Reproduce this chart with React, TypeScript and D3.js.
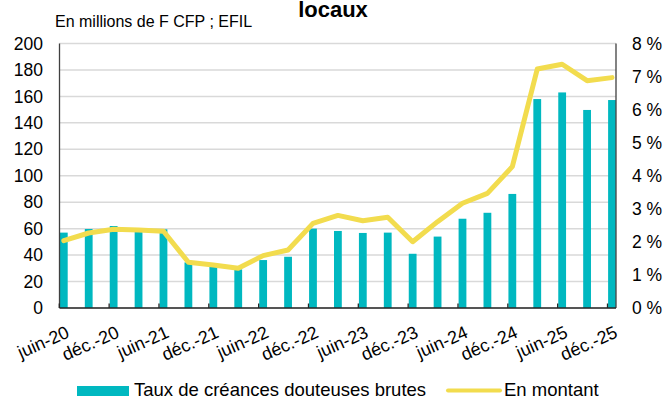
import React from "react";
import * as d3 from "d3";

const categories = [
  "juin-20", "sept.-20", "déc.-20", "mars-21", "juin-21", "sept.-21", "déc.-21", "mars-22",
  "juin-22", "sept.-22", "déc.-22", "mars-23", "juin-23", "sept.-23", "déc.-23", "mars-24",
  "juin-24", "sept.-24", "déc.-24", "mars-25", "juin-25", "sept.-25", "déc.-25",
];
// Taux de créances douteuses brutes (%), right axis
const tauxValues = [2.28, 2.39, 2.48, 2.38, 2.38, 1.38, 1.25, 1.17, 1.45, 1.55, 2.40, 2.33, 2.27, 2.28, 1.64, 2.16, 2.70, 2.88, 3.45, 6.32, 6.52, 5.99, 6.29];
// En montant (millions de F CFP), left axis
const montantValues = [50.9, 56.7, 59.5, 59, 58, 34.6, 32.5, 30, 39.6, 43.9, 64, 70, 66, 68.6, 50.1, 65.3, 79.2, 86.7, 106.9, 180.7, 184.3, 171.9, 174.2];
const leftTicks = [0, 20, 40, 60, 80, 100, 120, 140, 160, 180, 200];
const rightTicks = [0, 1, 2, 3, 4, 5, 6, 7, 8];

const W = 665, H = 401;
const FONT = "'Liberation Sans', Arial, sans-serif";
const TEAL = "#00B8C0";
const YELLOW = "#F2DC4E";

export default function App() {
  const plotL = 59.5, plotR = 616, plotT = 43.5, plotB = 308;
  const x = d3.scalePoint<string>().domain(categories).range([63.8, 612]);
  const yL = d3.scaleLinear().domain([0, 200]).range([plotB, plotT]);
  const yR = d3.scaleLinear().domain([0, 8]).range([plotB, plotT]);
  const barW = 7.8;
  const line = d3.line<number>()
    .x((_, i) => x(categories[i]) as number)
    .y((d) => yL(d));

  return (
    <svg width={W} height={H} style={{ position: "absolute", left: 0, top: 0, background: "#fff" }} fontFamily={FONT}>
      <rect x={0} y={0} width={W} height={H} fill="#fff" />
      <text x={333} y={17} textAnchor="middle" fontWeight="bold" fontSize={22} fill="#000">locaux</text>
      <text x={55} y={27} fontSize={16} fill="#000">En millions de F CFP ; EFIL</text>

      {leftTicks.map((t) => (
        <line key={"g" + t} x1={plotL} x2={plotR} y1={yL(t)} y2={yL(t)} stroke="#D9D9D9" strokeWidth={1.5} />
      ))}

      {tauxValues.map((v, i) => {
        const cx = x(categories[i]) as number;
        return <rect key={"b" + i} x={cx - barW / 2} y={yR(v)} width={barW} height={plotB - yR(v)} fill={TEAL} />;
      })}

      <line x1={plotL} x2={plotL} y1={plotT} y2={plotB} stroke="#404040" strokeWidth={1.3} />
      <line x1={plotR} x2={plotR} y1={plotT} y2={plotB} stroke="#404040" strokeWidth={1.3} />
      <line x1={plotL} x2={plotR} y1={plotB} y2={plotB} stroke="#262626" strokeWidth={1.5} />
      {categories.map((c, i) =>
        i % 2 === 0 ? (
          <line key={"t" + i} x1={(x(c) as number) - 4.5} x2={(x(c) as number) - 4.5} y1={plotB} y2={plotB - 4.5} stroke="#262626" strokeWidth={1.3} />
        ) : null
      )}

      <path d={line(montantValues) || ""} fill="none" stroke={YELLOW} strokeWidth={5} strokeLinejoin="round" strokeLinecap="round" />

      {leftTicks.map((t) => (
        <text key={"l" + t} x={43} y={yL(t)} dy="0.35em" textAnchor="end" fontSize={17.5} fill="#000">{t}</text>
      ))}
      {rightTicks.map((t) => (
        <text key={"r" + t} x={632} y={yR(t)} dy="0.35em" textAnchor="start" fontSize={17.5} fill="#000">{t + " %"}</text>
      ))}

      {categories.map((c, i) =>
        i % 2 === 0 ? (
          <text key={"x" + i} transform={`translate(${(x(c) as number) + 1.5},${325}) rotate(-24)`} dy="0.71em" textAnchor="end" fontSize={18} fill="#000">{c}</text>
        ) : null
      )}

      <rect x={77} y={386} width={52} height={10} fill={TEAL} />
      <text x={134} y={396} fontSize={18.5} fill="#000">Taux de créances douteuses brutes</text>
      <line x1={448} x2={500} y1={390.5} y2={390.5} stroke={YELLOW} strokeWidth={4} strokeLinecap="round" />
      <text x={504} y={396} fontSize={18.5} fill="#000">En montant</text>
    </svg>
  );
}
